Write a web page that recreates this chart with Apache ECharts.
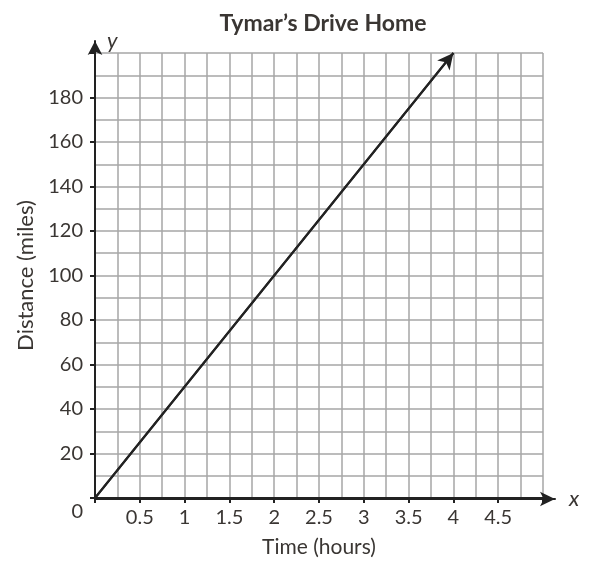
<!DOCTYPE html>
<html>
<head>
<meta charset="utf-8">
<script src="https://cdn.jsdelivr.net/npm/echarts@6/dist/echarts.min.js"></script>
<style>
html,body{margin:0;padding:0;background:#fff;}
#main{width:590px;height:563px;}
</style>
</head>
<body>
<div id="main"></div>
<script>
// ---- data ----
const chartTitle = "Tymar’s Drive Home";
const xAxisTitle = "Time (hours)";
const yAxisTitle = "Distance (miles)";
const timeHours = [0, 4];
const distanceMiles = [0, 200];
const xMin = 0, xMax = 5, xStep = 0.5;
const yMin = 0, yMax = 200, yStep = 20;
const xHiddenLabels = [0, 5];
const yHiddenLabels = [200];

const FONT = 'Lato';
const TXT = '#3a3633';
const AX = '#222';
const GRIDC = '#a6a6a6';

const chart = echarts.init(document.getElementById('main'), null, {renderer: 'canvas'});

const pts = timeHours.map((t, i) => [t, distanceMiles[i]]);
const n = pts.length;

chart.setOption({
  animation: false,
  backgroundColor: '#fff',
  title: {
    text: chartTitle,
    left: 318, top: 7, textAlign: 'center',
    textStyle: {fontFamily: FONT, fontWeight: 'bold', fontSize: 23, color: TXT}
  },
  grid: [
    {left: 95, right: 47, top: 53, bottom: 64, containLabel: false},
    {left: 95, right: 35, top: 41, bottom: 64, containLabel: false}
  ],
  xAxis: [
    {
      type: 'value', gridIndex: 0, min: xMin, max: xMax, interval: xStep,
      name: xAxisTitle, nameLocation: 'middle', nameGap: 39,
      nameTextStyle: {fontFamily: FONT, fontSize: 21, color: TXT},
      axisLine: {show: true, onZero: false, lineStyle: {color: AX, width: 2}},
      axisTick: {show: true, length: 5, lineStyle: {color: AX, width: 2}},
      axisLabel: {
        fontFamily: FONT, fontSize: 20, color: TXT, margin: 10,
        formatter: v => xHiddenLabels.includes(v) ? '' : String(v)
      },
      splitLine: {show: true, lineStyle: {color: GRIDC, width: 1.5}},
      minorTick: {show: false, splitNumber: 2},
      minorSplitLine: {show: true, lineStyle: {color: GRIDC, width: 1.5}}
    },
    {
      type: 'value', gridIndex: 1, min: 0, max: 1,
      name: 'x', nameLocation: 'end', nameGap: 14,
      nameTextStyle: {fontFamily: FONT, fontSize: 22, fontStyle: 'italic', color: TXT, verticalAlign: 'middle', padding: [0,0,4,0]},
      axisLine: {show: true, onZero: false, symbol: ['none', 'arrow'], symbolSize: [11, 15], lineStyle: {color: AX, width: 2}},
      axisTick: {show: false}, axisLabel: {show: false}, splitLine: {show: false}
    },
    {
      type: 'value', gridIndex: 0, min: xMin, max: xMax, interval: xStep,
      axisLine: {show: false},
      axisTick: {show: true, inside: true, length: 5, lineStyle: {color: AX, width: 2}},
      axisLabel: {show: false}, splitLine: {show: false}
    }
  ],
  yAxis: [
    {
      type: 'value', gridIndex: 0, min: yMin, max: yMax, interval: yStep,
      name: yAxisTitle, nameLocation: 'middle', nameGap: 58,
      nameTextStyle: {fontFamily: FONT, fontSize: 22, color: TXT},
      axisLine: {show: true, onZero: false, lineStyle: {color: AX, width: 2}},
      axisTick: {show: true, length: 5, lineStyle: {color: AX, width: 2}},
      axisLabel: {
        fontFamily: FONT, fontSize: 20, color: TXT, margin: 12,
        formatter: v => yHiddenLabels.includes(v) ? '' : (v === 0 ? '{z|0}' : String(v)),
        rich: {z: {fontFamily: FONT, fontSize: 20, color: TXT, padding: [28, 0, 0, 0]}}
      },
      splitLine: {show: true, lineStyle: {color: GRIDC, width: 1.5}},
      minorTick: {show: false, splitNumber: 2},
      minorSplitLine: {show: true, lineStyle: {color: GRIDC, width: 1.5}}
    },
    {
      type: 'value', gridIndex: 1, min: 0, max: 1,
      name: 'y', nameLocation: 'end', nameGap: 0,
      nameTextStyle: {fontFamily: FONT, fontSize: 22, fontStyle: 'italic', color: TXT, align: 'left', verticalAlign: 'middle', padding: [0,0,0,12]},
      axisLine: {show: true, onZero: false, symbol: ['none', 'arrow'], symbolSize: [11, 14], lineStyle: {color: AX, width: 2}},
      axisTick: {show: false}, axisLabel: {show: false}, splitLine: {show: false}
    },
    {
      type: 'value', gridIndex: 0, min: yMin, max: yMax, interval: yStep,
      axisLine: {show: false},
      axisTick: {show: true, inside: true, length: 5, lineStyle: {color: AX, width: 2}},
      axisLabel: {show: false}, splitLine: {show: false}
    }
  ],
  series: [
    {
      type: 'line', xAxisIndex: 0, yAxisIndex: 0,
      data: pts, showSymbol: false, symbol: 'none', silent: true,
      lineStyle: {color: AX, width: 2},
      markLine: {
        silent: true, symbol: ['none', 'arrow'], symbolSize: [12, 16],
        label: {show: false},
        lineStyle: {color: AX, width: 2, type: 'solid'},
        emphasis: {disabled: true},
        data: [[{coord: pts[n - 2]}, {coord: pts[n - 1]}]]
      }
    }
  ]
});
</script>
</body>
</html>
